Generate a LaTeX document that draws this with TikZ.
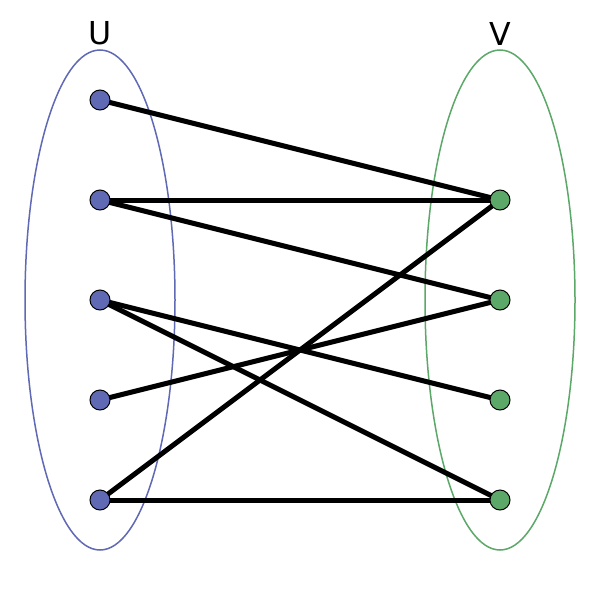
\documentclass[tikz,border=0pt]{standalone}
\usepackage{fontspec}
\setmainfont{DejaVu Sans}
\definecolor{ublue}{RGB}{96,105,180}
\definecolor{vgreen}{RGB}{92,168,104}
\begin{document}
\begin{tikzpicture}[x=0.5pt,y=-0.5pt,
  vtx/.style={circle,draw=black,line width=0.5pt,minimum size=10pt,inner sep=0pt},
  uvtx/.style={vtx,fill=ublue},
  vvtx/.style={vtx,fill=vgreen},
  edge/.style={line width=2.5pt,black},
  lbl/.style={font=\fontsize{15.8}{18}\selectfont,inner sep=0pt}]
\useasboundingbox (0,0) rectangle (600,600);
\fill[white] (0,0) rectangle (600,600);
\draw[ublue,line width=0.75pt] (100,300) ellipse [x radius=75,y radius=250];
\draw[vgreen,line width=0.75pt] (500,300) ellipse [x radius=75,y radius=250];
\node[lbl] (lu) at (100,33.5) {U};
\node[lbl] (lv) at (500,33.5) {V};
\foreach \i/\y in {1/100,2/200,3/300,4/400,5/500}
  \coordinate (pu\i) at (100,\y);
\foreach \i/\y in {1/200,2/300,3/400,4/500}
  \coordinate (pv\i) at (500,\y);
\draw[edge] (pu1) -- (pv1);
\draw[edge] (pu2) -- (pv1);
\draw[edge] (pu2) -- (pv2);
\draw[edge] (pu3) -- (pv3);
\draw[edge] (pu3) -- (pv4);
\draw[edge] (pu4) -- (pv2);
\draw[edge] (pu5) -- (pv1);
\draw[edge] (pu5) -- (pv4);
\foreach \i in {1,...,5}
  \node[uvtx] (u\i) at (pu\i) {};
\foreach \i in {1,...,4}
  \node[vvtx] (v\i) at (pv\i) {};
\end{tikzpicture}
\end{document}
